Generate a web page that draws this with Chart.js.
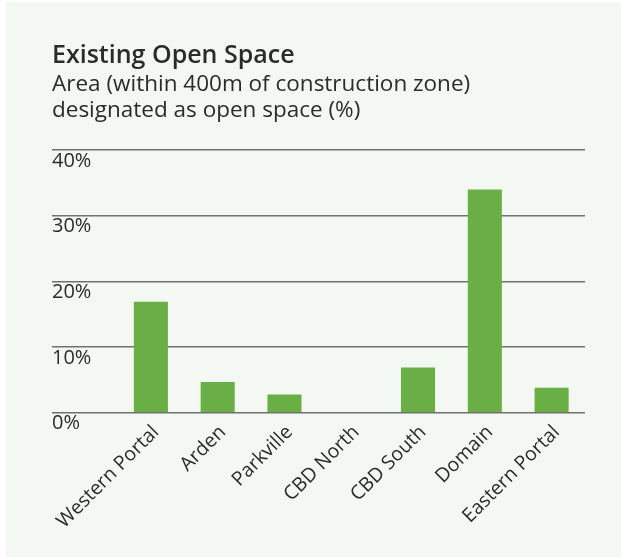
<!DOCTYPE html>
<html>
<head>
<meta charset="utf-8">
<script src="https://cdn.jsdelivr.net/npm/chart.js@4.4.0/dist/chart.umd.min.js"></script>
<style>
	html, body { margin: 0; padding: 0; background: #ffffff; }
	#wrap {
		position: absolute;
		left: 6px;
		top: 2px;
		width: 615px;
		height: 555px;
		background: #f4f8f2;
	}
</style>
</head>
<body>
<div id="wrap"><canvas id="openSpaceChart"></canvas></div>
<script>
	// Chart data
	const areas = ['Western Portal', 'Arden', 'Parkville', 'CBD North', 'CBD South', 'Domain', 'Eastern Portal'];
	const openSpacePct = [16.9, 4.7, 2.8, 0, 6.9, 34.0, 3.8];
	const yTicks = [0, 10, 20, 30, 40];

	const textColor = '#2b2b2b';
	const fontFamily = '"Open Sans", sans-serif';

	const ctx = document.getElementById('openSpaceChart').getContext('2d');
	new Chart(ctx, {
		type: 'bar',
		data: {
			labels: areas,
			datasets: [{
				label: 'Open space',
				data: openSpacePct,
				backgroundColor: '#6aae46',
				borderWidth: 0,
				categoryPercentage: 1,
				barPercentage: 0.51
			}]
		},
		options: {
			responsive: true,
			maintainAspectRatio: false,
			animation: false,
			layout: {
				padding: { left: 46, right: 36, top: 39, bottom: 24 }
			},
			plugins: {
				legend: { display: false },
				tooltip: { enabled: false },
				title: {
					display: true,
					text: 'Existing Open Space',
					align: 'start',
					color: textColor,
					font: { family: fontFamily, size: 25, weight: '600', lineHeight: 1.15 },
					padding: { top: 0, bottom: 2 }
				},
				subtitle: {
					display: true,
					text: ['Area (within 400m of construction zone)', 'designated as open space (%)'],
					align: 'start',
					color: textColor,
					font: { family: fontFamily, size: 22.5, weight: '400', lineHeight: 1.16 },
					padding: { top: 0, bottom: 26 }
				}
			},
			scales: {
				y: {
					min: yTicks[0],
					max: yTicks[yTicks.length - 1],
					afterBuildTicks: function(scale) {
						scale.ticks = yTicks.map(v => ({ value: v }));
					},
					afterFit: function(scale) {
						scale.width = 65.5;
					},
					ticks: {
						crossAlign: 'far',
						labelOffset: 11,
						color: textColor,
						font: { family: fontFamily, size: 20 },
						callback: function(v) { return v + '%'; }
					},
					grid: {
						color: '#707070',
						lineWidth: 1.6,
						drawTicks: true,
						tickLength: 65.5
					},
					border: { display: false }
				},
				x: {
					grid: { display: false },
					border: { display: false },
					ticks: {
						autoSkip: false,
						minRotation: 45,
						maxRotation: 45,
						padding: 0,
						labelOffset: 5,
						color: textColor,
						font: { family: fontFamily, size: 19.5 }
					}
				}
			}
		}
	});
</script>
</body>
</html>
